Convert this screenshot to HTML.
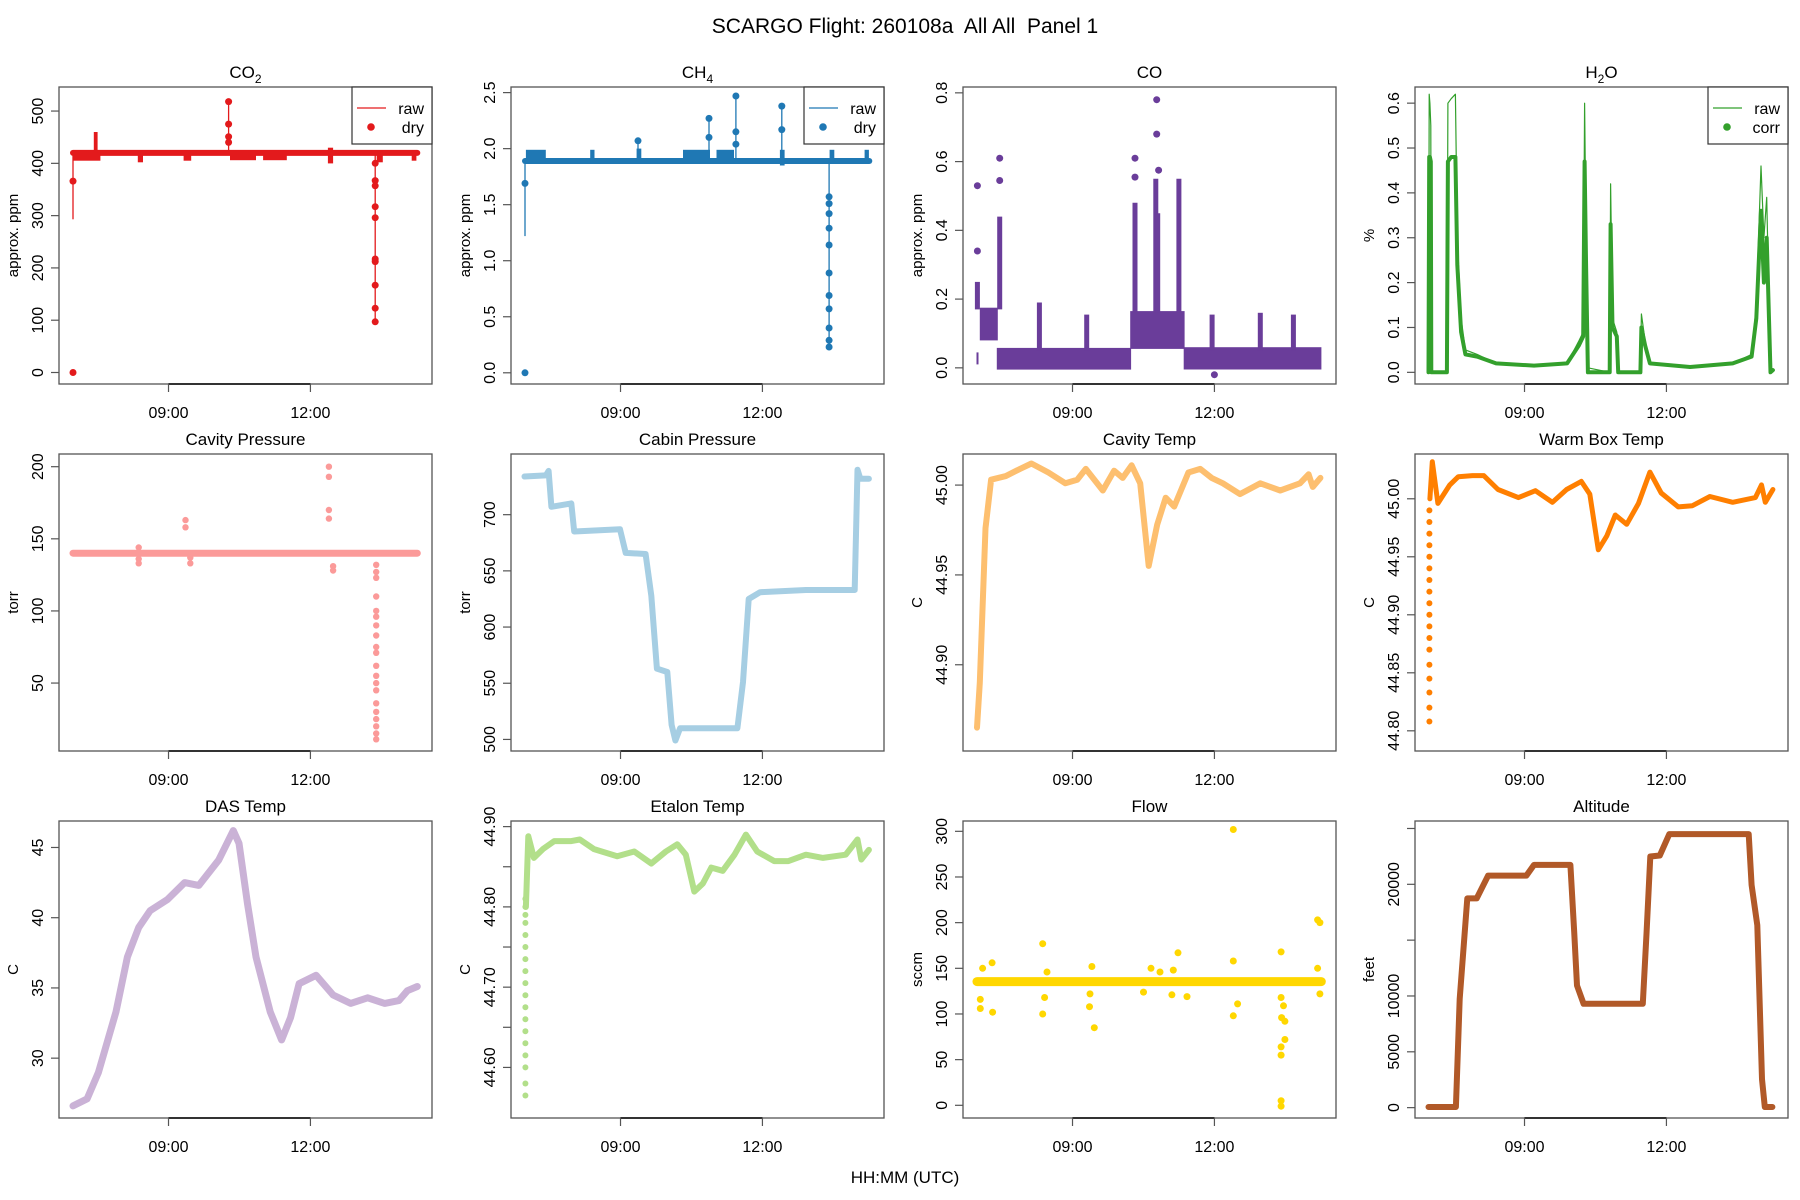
<!DOCTYPE html>
<html><head><meta charset="utf-8"><title>SCARGO Flight Panel 1</title>
<style>
html,body{margin:0;padding:0;background:#fff;}
svg{display:block;font-family:"Liberation Sans",Arial,sans-serif;}
</style></head>
<body>
<svg id="chart" width="1800" height="1200" viewBox="0 0 1800 1200" xmlns="http://www.w3.org/2000/svg">
<rect x="0" y="0" width="1800" height="1200" fill="#fff"/>
<text x="905" y="33" font-size="21" text-anchor="middle" fill="#000" style="white-space:pre" xml:space="preserve">SCARGO Flight: 260108a  All All  Panel 1</text>
<text x="905" y="1183" font-size="17" text-anchor="middle" fill="#000">HH:MM (UTC)</text>
</svg>
<script>
// ---------- DATA (time in decimal hours UTC) ----------
const xTickHours = [9, 12];
const xTickLabels = ["09:00", "12:00"];

// CO2
const co2LineT = [6.98, 14.26];
const co2LineV = [420, 420];
const co2BlockT0 = [6.99, 7.42, 8.35, 9.32, 10.30, 11.00, 12.37, 13.40, 14.14];
const co2BlockT1 = [7.56, 7.50, 8.46, 9.48, 10.85, 11.50, 12.48, 13.53, 14.24];
const co2BlockLo = [405, 420, 402, 405, 406, 406, 400, 402, 405];
const co2BlockHi = [424, 460, 424, 423, 424, 424, 430, 423, 423];
const co2RawT = [6.98, 10.27, 13.37];
const co2RawLo = [293, 420, 97];
const co2RawHi = [420, 518, 420];
const co2PtT = [6.98, 6.98, 10.27, 10.27, 10.27, 10.27, 13.37, 13.37, 13.37, 13.37, 13.37, 13.37, 13.37, 13.37, 13.37, 13.37];
const co2PtV = [0, 366, 518, 475, 451, 440, 400, 367, 357, 317, 296, 217, 212, 167, 123, 97];

// CH4
const ch4LineT = [6.98, 14.26];
const ch4LineV = [1.89, 1.89];
const ch4BlockT0 = [7.0, 8.36, 9.34, 10.32, 11.03, 12.37, 13.42, 14.16];
const ch4BlockT1 = [7.42, 8.45, 9.44, 10.89, 11.40, 12.47, 13.52, 14.25];
const ch4BlockLo = [1.88, 1.88, 1.88, 1.88, 1.88, 1.85, 1.88, 1.88];
const ch4BlockHi = [1.99, 1.99, 2.00, 1.99, 1.99, 1.99, 1.99, 1.99];
const ch4RawT = [6.98, 9.37, 10.87, 11.44, 12.41, 13.41];
const ch4RawLo = [1.22, 1.89, 1.89, 1.89, 1.89, 0.23];
const ch4RawHi = [1.89, 2.07, 2.27, 2.47, 2.38, 1.89];
const ch4PtT = [6.98, 6.98, 9.37, 10.87, 10.87, 11.44, 11.44, 11.44, 12.41, 12.41, 13.41, 13.41, 13.41, 13.41, 13.41, 13.41, 13.41, 13.41, 13.41, 13.41, 13.41];
const ch4PtV = [0.0, 1.69, 2.07, 2.27, 2.10, 2.47, 2.15, 2.04, 2.38, 2.17, 1.57, 1.51, 1.42, 1.29, 1.14, 0.89, 0.69, 0.57, 0.40, 0.29, 0.23];

// CO
const coBlockT0 = [6.97, 7.04, 7.40, 10.22, 11.35];
const coBlockT1 = [7.01, 7.42, 10.24, 11.37, 14.26];
const coBlockLo = [0.01, 0.08, -0.005, 0.055, -0.005];
const coBlockHi = [0.045, 0.175, 0.058, 0.165, 0.06];
const coSpikeT = [6.99, 7.46, 8.30, 9.30, 10.32, 10.76, 10.80, 11.25, 11.95, 12.97, 13.67];
const coSpikeLo = [0.17, 0.17, 0.05, 0.05, 0.16, 0.16, 0.16, 0.16, 0.05, 0.05, 0.05];
const coSpikeHi = [0.25, 0.44, 0.19, 0.155, 0.48, 0.55, 0.45, 0.55, 0.155, 0.16, 0.155];
const coPtT = [6.99, 6.99, 7.46, 7.46, 10.32, 10.32, 10.78, 10.78, 10.82, 12.0];
const coPtV = [0.53, 0.34, 0.61, 0.545, 0.61, 0.555, 0.78, 0.68, 0.575, -0.02];

// H2O
const h2oRawT = [6.97, 6.985, 7.0, 7.02, 7.03, 7.36, 7.38, 7.45, 7.54, 7.58, 7.66, 7.75, 8.0, 8.4, 9.2, 9.9, 10.15, 10.24, 10.27, 10.30, 10.34, 10.80, 10.82, 10.86, 10.95, 10.98, 11.45, 11.47, 11.55, 11.65, 12.5, 13.4, 13.8, 13.9, 14.0, 14.06, 14.12, 14.2, 14.25];
const h2oRawV = [0.0, 0.62, 0.60, 0.55, 0.0, 0.0, 0.60, 0.61, 0.62, 0.30, 0.12, 0.05, 0.04, 0.02, 0.015, 0.02, 0.07, 0.09, 0.60, 0.30, 0.01, 0.0, 0.42, 0.12, 0.09, 0.0, 0.0, 0.13, 0.07, 0.02, 0.012, 0.02, 0.04, 0.15, 0.46, 0.30, 0.39, 0.0, 0.005];
const h2oCorT = [6.97, 6.985, 7.0, 7.02, 7.03, 7.36, 7.38, 7.45, 7.54, 7.58, 7.66, 7.75, 8.0, 8.4, 9.2, 9.9, 10.15, 10.24, 10.27, 10.30, 10.34, 10.80, 10.82, 10.86, 10.95, 10.98, 11.45, 11.47, 11.55, 11.65, 12.5, 13.4, 13.8, 13.9, 14.0, 14.06, 14.12, 14.2, 14.25];
const h2oCorV = [0.0, 0.48, 0.48, 0.47, 0.0, 0.0, 0.47, 0.48, 0.48, 0.24, 0.09, 0.04, 0.035, 0.02, 0.015, 0.02, 0.06, 0.08, 0.47, 0.25, 0.0, 0.0, 0.33, 0.10, 0.08, 0.0, 0.0, 0.10, 0.06, 0.02, 0.012, 0.02, 0.035, 0.12, 0.36, 0.20, 0.30, 0.0, 0.005];

// Cavity pressure
const cavPLineT = [6.98, 14.26];
const cavPLineV = [140, 140];
const cavPPtT = [8.37, 8.37, 8.37, 9.36, 9.36, 9.46, 9.46, 12.39, 12.39, 12.39, 12.39, 12.48, 12.48, 13.39, 13.39, 13.39, 13.39, 13.39, 13.39, 13.39, 13.39, 13.39, 13.39, 13.39, 13.39, 13.39, 13.39, 13.39, 13.39, 13.39, 13.39, 13.39, 13.39];
const cavPPtV = [144, 136, 133, 163, 158, 137, 133, 200, 193, 170, 164, 131, 128, 132, 127, 123, 110, 100, 96, 90, 83, 75, 71, 62, 55, 50, 45, 36, 30, 25, 20, 15, 11];

// Cabin pressure
const cabPT = [6.97, 7.42, 7.48, 7.54, 7.96, 8.02, 8.99, 9.11, 9.53, 9.65, 9.77, 9.99, 10.08, 10.16, 10.26, 11.47, 11.59, 11.71, 11.95, 12.92, 13.95, 14.01, 14.07, 14.25];
const cabPV = [734, 735, 739, 707, 710, 685, 687, 666, 665, 628, 563, 560, 513, 499, 510, 510, 551, 625, 631, 633, 633, 740, 732, 732];

// Cavity temp
const cavTT = [6.98, 7.04, 7.16, 7.28, 7.59, 7.89, 8.13, 8.49, 8.85, 9.10, 9.28, 9.64, 9.88, 10.06, 10.25, 10.43, 10.61, 10.79, 10.97, 11.15, 11.45, 11.70, 11.94, 12.18, 12.54, 12.97, 13.39, 13.81, 13.99, 14.08, 14.24];
const cavTV = [44.865, 44.89, 44.976, 45.003, 45.005, 45.009, 45.012, 45.007, 45.001, 45.003, 45.009, 44.997, 45.008, 45.004, 45.011, 45.001, 44.955, 44.978, 44.993, 44.988, 45.007, 45.009, 45.004, 45.001, 44.995, 45.001, 44.997, 45.001, 45.006, 44.999, 45.004];

// Warm box temp
const wbT = [7.0, 7.05, 7.17, 7.42, 7.60, 7.90, 8.14, 8.44, 8.87, 9.23, 9.59, 9.89, 10.20, 10.38, 10.56, 10.74, 10.92, 11.16, 11.41, 11.65, 11.89, 12.25, 12.55, 12.92, 13.40, 13.88, 14.01, 14.09, 14.25];
const wbV = [45.0, 45.032, 44.996, 45.012, 45.019, 45.020, 45.020, 45.008, 45.001, 45.007, 44.997, 45.008, 45.015, 45.004, 44.956, 44.968, 44.986, 44.978, 44.996, 45.023, 45.005, 44.993, 44.994, 45.002, 44.997, 45.001, 45.012, 44.997, 45.008];
const wbPtT = [6.99, 6.99, 6.99, 6.99, 6.99, 6.99, 6.99, 6.99, 6.99, 6.99, 6.99, 6.99, 6.99, 6.99, 6.99, 6.99, 6.99, 6.99];
const wbPtV = [44.808, 44.82, 44.833, 44.845, 44.857, 44.87, 44.88, 44.89, 44.9, 44.91, 44.92, 44.93, 44.94, 44.95, 44.96, 44.97, 44.98, 44.99];

// DAS temp
const dasT = [6.98, 7.28, 7.52, 7.89, 8.13, 8.37, 8.61, 8.98, 9.34, 9.64, 10.06, 10.37, 10.49, 10.67, 10.85, 11.15, 11.39, 11.58, 11.76, 12.12, 12.48, 12.85, 13.21, 13.57, 13.87, 14.05, 14.26];
const dasV = [26.6, 27.1, 29.0, 33.3, 37.2, 39.3, 40.5, 41.3, 42.5, 42.3, 44.1, 46.2, 45.3, 41.0, 37.2, 33.3, 31.3, 32.9, 35.3, 35.9, 34.5, 33.9, 34.3, 33.9, 34.1, 34.8, 35.1];

// Etalon temp
const etT = [7.0, 7.05, 7.17, 7.36, 7.60, 7.96, 8.14, 8.44, 8.93, 9.29, 9.65, 9.96, 10.20, 10.38, 10.56, 10.74, 10.92, 11.16, 11.41, 11.65, 11.89, 12.25, 12.55, 12.92, 13.28, 13.76, 14.01, 14.09, 14.25];
const etV = [44.80, 44.888, 44.861, 44.872, 44.882, 44.882, 44.884, 44.872, 44.863, 44.869, 44.854, 44.869, 44.878, 44.865, 44.819, 44.829, 44.849, 44.845, 44.865, 44.890, 44.869, 44.857, 44.857, 44.865, 44.861, 44.865, 44.884, 44.859, 44.871];
const etPtT = [6.99, 6.99, 6.99, 6.99, 6.99, 6.99, 6.99, 6.99, 6.99, 6.99, 6.99, 6.99, 6.99, 6.99, 6.99, 6.99, 6.99, 6.99];
const etPtV = [44.565, 44.58, 44.60, 44.615, 44.63, 44.645, 44.66, 44.675, 44.69, 44.705, 44.72, 44.735, 44.75, 44.765, 44.78, 44.79, 44.80, 44.81];

// Flow
const flowLineT = [6.98, 14.26];
const flowLineV = [135.5, 135.5];
const flowPtT = [7.05, 7.10, 7.30, 7.31, 7.05, 8.37, 8.37, 8.46, 8.41, 9.36, 9.41, 9.46, 9.37, 10.50, 10.66, 10.85, 11.13, 11.23, 11.42, 11.10, 12.40, 12.40, 12.40, 12.49, 13.41, 13.41, 13.42, 13.49, 13.41, 13.41, 13.41, 13.41, 13.49, 13.46, 14.18, 14.23, 14.18, 14.23];
const flowPtV = [106, 150, 156, 102, 116, 177, 100, 146, 118, 108, 152, 85, 122, 124, 150, 146, 148, 167, 119, 121, 302, 158, 98, 111, 168, 118, 96, 72, 55, 64, 5, -1, 92, 109, 203, 200, 150, 122];

// Altitude
const altT = [6.97, 7.55, 7.63, 7.79, 7.99, 8.23, 9.04, 9.20, 9.97, 10.05, 10.11, 10.25, 11.50, 11.58, 11.66, 11.86, 12.06, 13.74, 13.80, 13.92, 14.02, 14.08, 14.24];
const altV = [60, 60, 9745, 18740, 18740, 20780, 20780, 21740, 21740, 15740, 10940, 9295, 9295, 15740, 22490, 22580, 24500, 24500, 19940, 16340, 2550, 60, 60];

// ---------- LAYOUT ----------
const COLS = [59, 511, 963, 1415], ROWS = [87, 454, 821], PW = 373, PH = 297;
const XMIN = 6.685, XMAX = 14.57;
const svg = document.getElementById('chart');
const NS = 'http://www.w3.org/2000/svg';
function el(tag, attrs, parent) {
  const e = document.createElementNS(NS, tag);
  for (const k in attrs) e.setAttribute(k, attrs[k]);
  (parent || svg).appendChild(e);
  return e;
}

const panels = [
 {key:'co2', title:['CO','2',''], col:0,row:0, ymin:-22, ymax:546, ticks:[0,100,200,300,400,500], labels:['0','100','200','300','400','500'], ylab:'approx. ppm', color:'#E31A1C', legend:['raw','dry']},
 {key:'ch4', title:['CH','4',''], col:1,row:0, ymin:-0.10, ymax:2.55, ticks:[0,0.5,1,1.5,2,2.5], labels:['0.0','0.5','1.0','1.5','2.0','2.5'], ylab:'approx. ppm', color:'#1F78B4', legend:['raw','dry']},
 {key:'co', title:['CO'], col:2,row:0, ymin:-0.047, ymax:0.817, ticks:[0,0.2,0.4,0.6,0.8], labels:['0.0','0.2','0.4','0.6','0.8'], ylab:'approx. ppm', color:'#6A3D9A'},
 {key:'h2o', title:['H','2','O'], col:3,row:0, ymin:-0.026, ymax:0.636, ticks:[0,0.1,0.2,0.3,0.4,0.5,0.6], labels:['0.0','0.1','0.2','0.3','0.4','0.5','0.6'], ylab:'%', color:'#33A02C', legend:['raw','corr']},
 {key:'cavity-pressure', title:['Cavity Pressure'], col:0,row:1, ymin:2.9, ymax:208.8, ticks:[50,100,150,200], labels:['50','100','150','200'], ylab:'torr', color:'#FB9A99'},
 {key:'cabin-pressure', title:['Cabin Pressure'], col:1,row:1, ymin:489.7, ymax:754, ticks:[500,550,600,650,700], labels:['500','550','600','650','700'], ylab:'torr', color:'#A6CEE3'},
 {key:'cavity-temp', title:['Cavity Temp'], col:2,row:1, ymin:44.852, ymax:45.0173, ticks:[44.90,44.95,45.00], labels:['44.90','44.95','45.00'], ylab:'C', color:'#FDBF6F'},
 {key:'warm-box-temp', title:['Warm Box Temp'], col:3,row:1, ymin:44.7826, ymax:45.0386, ticks:[44.80,44.85,44.90,44.95,45.00], labels:['44.80','44.85','44.90','44.95','45.00'], ylab:'C', color:'#FF7F00'},
 {key:'das-temp', title:['DAS Temp'], col:0,row:2, ymin:25.74, ymax:46.885, ticks:[30,35,40,45], labels:['30','35','40','45'], ylab:'C', color:'#CAB2D6'},
 {key:'etalon-temp', title:['Etalon Temp'], col:1,row:2, ymin:44.537, ymax:44.907, ticks:[44.60,44.65,44.70,44.75,44.80,44.85,44.90], labels:['44.60','','44.70','','44.80','','44.90'], ylab:'C', color:'#B2DF8A'},
 {key:'flow', title:['Flow'], col:2,row:2, ymin:-13.9, ymax:311.3, ticks:[0,50,100,150,200,250,300], labels:['0','50','100','150','200','250','300'], ylab:'sccm', color:'#FFD700'},
 {key:'altitude', title:['Altitude'], col:3,row:2, ymin:-928, ymax:25670, ticks:[0,5000,10000,15000,20000,25000], labels:['0','5000','10000','','20000',''], ylab:'feet', color:'#B15928'}
];

function xs(p, h) { return COLS[p.col] + (h - XMIN) / (XMAX - XMIN) * PW; }
function ys(p, v) { return ROWS[p.row] + (p.ymax - v) / (p.ymax - p.ymin) * PH; }

function drawLine(p, g, T, V, w, name) {
  const pts = T.map((t, i) => xs(p, t).toFixed(1) + ',' + ys(p, V[i]).toFixed(1)).join(' ');
  const e = el('polyline', {points: pts, fill: 'none', stroke: p.color, 'stroke-width': w, 'stroke-linejoin': 'round', 'stroke-linecap': 'round'}, g);
  
  
}
function drawPoints(p, g, T, V, r, name) {
  T.forEach((t, i) => {
    const c = el('circle', {cx: xs(p, t).toFixed(1), cy: ys(p, V[i]).toFixed(1), r: r, fill: p.color}, g);
    
    
  });
}
function drawBlocks(p, g, T0, T1, LO, HI, name) {
  T0.forEach((t, i) => {
    const x0 = xs(p, t), x1 = xs(p, T1[i]);
    const y0 = ys(p, HI[i]), y1 = ys(p, LO[i]);
    const r = el('rect', {x: x0.toFixed(1), y: y0.toFixed(1), width: Math.max(2, x1 - x0).toFixed(1), height: Math.max(2, y1 - y0).toFixed(1), fill: p.color}, g);
    
    
  });
}
function drawVsegs(p, g, T, LO, HI, w, name) {
  T.forEach((t, i) => {
    const l = el('line', {x1: xs(p, t).toFixed(1), x2: xs(p, t).toFixed(1), y1: ys(p, LO[i]).toFixed(1), y2: ys(p, HI[i]).toFixed(1), stroke: p.color, 'stroke-width': w}, g);
    
    
  });
}

panels.forEach(p => {
  const L = COLS[p.col], T = ROWS[p.row];
  const g = el('g', {});
  
  

  const tt = el('text', {x: L + PW / 2, y: T - 9, 'font-size': 17, 'text-anchor': 'middle', fill: '#000'}, g);
  
  
  if (p.title.length === 1) { tt.textContent = p.title[0]; }
  else {
    const a = el('tspan', {}, tt); a.textContent = p.title[0];
    const b = el('tspan', {dy: 5, 'font-size': 12}, tt); b.textContent = p.title[1];
    if (p.title[2]) { const c = el('tspan', {dy: -5}, tt); c.textContent = p.title[2]; }
  }

  const cid = 'clip-' + p.key;
  const cp = el('clipPath', {id: cid}, g);
  el('rect', {x: L, y: T, width: PW, height: PH}, cp);
  const dg = el('g', {'clip-path': 'url(#' + cid + ')'}, g);
  
  

  const k = p.key;
  if (k === 'co2') {
    drawVsegs(p, dg, co2RawT, co2RawLo, co2RawHi, 1.3, 'co2-raw-line');
    drawLine(p, dg, co2LineT, co2LineV, 6, 'co2-dry-band');
    drawBlocks(p, dg, co2BlockT0, co2BlockT1, co2BlockLo, co2BlockHi, 'co2-dry-cluster');
    drawPoints(p, dg, co2PtT, co2PtV, 3.5, 'co2-dry-point');
  } else if (k === 'ch4') {
    drawVsegs(p, dg, ch4RawT, ch4RawLo, ch4RawHi, 1.3, 'ch4-raw-line');
    drawLine(p, dg, ch4LineT, ch4LineV, 6, 'ch4-dry-band');
    drawBlocks(p, dg, ch4BlockT0, ch4BlockT1, ch4BlockLo, ch4BlockHi, 'ch4-dry-cluster');
    drawPoints(p, dg, ch4PtT, ch4PtV, 3.5, 'ch4-dry-point');
  } else if (k === 'co') {
    drawBlocks(p, dg, coBlockT0, coBlockT1, coBlockLo, coBlockHi, 'co-cluster');
    drawVsegs(p, dg, coSpikeT, coSpikeLo, coSpikeHi, 5, 'co-spike');
    drawPoints(p, dg, coPtT, coPtV, 3.5, 'co-point');
  } else if (k === 'h2o') {
    drawLine(p, dg, h2oRawT, h2oRawV, 1.2, 'h2o-raw-line');
    drawLine(p, dg, h2oCorT, h2oCorV, 4, 'h2o-corr-series');
  } else if (k === 'cavity-pressure') {
    drawLine(p, dg, cavPLineT, cavPLineV, 7, 'cavity-pressure-band');
    drawPoints(p, dg, cavPPtT, cavPPtV, 3.2, 'cavity-pressure-point');
  } else if (k === 'cabin-pressure') {
    drawLine(p, dg, cabPT, cabPV, 6, 'cabin-pressure-line');
  } else if (k === 'cavity-temp') {
    drawLine(p, dg, cavTT, cavTV, 6, 'cavity-temp-line');
  } else if (k === 'warm-box-temp') {
    drawPoints(p, dg, wbPtT, wbPtV, 3, 'warm-box-temp-point');
    drawLine(p, dg, wbT, wbV, 5, 'warm-box-temp-line');
  } else if (k === 'das-temp') {
    drawLine(p, dg, dasT, dasV, 7, 'das-temp-line');
  } else if (k === 'etalon-temp') {
    drawPoints(p, dg, etPtT, etPtV, 3, 'etalon-temp-point');
    drawLine(p, dg, etT, etV, 6, 'etalon-temp-line');
  } else if (k === 'flow') {
    drawLine(p, dg, flowLineT, flowLineV, 9, 'flow-band');
    drawPoints(p, dg, flowPtT, flowPtV, 3.5, 'flow-point');
  } else if (k === 'altitude') {
    drawLine(p, dg, altT, altV, 6, 'altitude-line');
  }

  const box = el('rect', {x: L, y: T, width: PW, height: PH, fill: 'none', stroke: '#555', 'stroke-width': 1.3}, g);
  
  

  const B = T + PH;
  const xa = el('line', {x1: xs(p, xTickHours[0]), x2: xs(p, xTickHours[xTickHours.length - 1]), y1: B, y2: B, stroke: '#000', 'stroke-width': 1.5}, g);
  
  
  xTickHours.forEach((h, i) => {
    const x = xs(p, h);
    const tk = el('line', {x1: x, x2: x, y1: B, y2: B + 8, stroke: '#555', 'stroke-width': 1.2}, g);
    
    
    const lb = el('text', {x: x, y: B + 34, 'font-size': 16, 'text-anchor': 'middle', fill: '#000'}, g);
    
    
    lb.textContent = xTickLabels[i];
  });

  p.ticks.forEach((v, i) => {
    const y = ys(p, v);
    const tk = el('line', {x1: L - 8, x2: L, y1: y, y2: y, stroke: '#555', 'stroke-width': 1.2}, g);
    
    
    if (p.labels[i]) {
      const lb = el('text', {x: 0, y: 0, 'font-size': 16, 'text-anchor': 'middle', fill: '#000', transform: 'translate(' + (L - 16) + ',' + y.toFixed(1) + ') rotate(-90)'}, g);
      
      
      lb.textContent = p.labels[i];
    }
  });
  const yl = el('text', {x: 0, y: 0, 'font-size': 15, 'text-anchor': 'middle', fill: '#000', transform: 'translate(' + (L - 41) + ',' + (T + PH / 2) + ') rotate(-90)'}, g);
  
  
  yl.textContent = p.ylab;

  if (p.legend) {
    const lw = 80, lh = 57, lx = L + PW - lw, ly = T;
    const lg = el('g', {}, g);
    
    
    el('rect', {x: lx, y: ly, width: lw, height: lh, fill: '#fff', stroke: '#333', 'stroke-width': 1.2}, lg);
    const ln = el('line', {x1: lx + 5, x2: lx + 34, y1: ly + 21, y2: ly + 21, stroke: p.color, 'stroke-width': 1.3}, lg);
    
    
    const t1 = el('text', {x: lx + lw - 8, y: ly + 27, 'font-size': 16, 'text-anchor': 'end', fill: '#000'}, lg);
    
    
    t1.textContent = p.legend[0];
    const dt = el('circle', {cx: lx + 19, cy: ly + 40, r: 3.8, fill: p.color}, lg);
    
    
    const t2 = el('text', {x: lx + lw - 8, y: ly + 46, 'font-size': 16, 'text-anchor': 'end', fill: '#000'}, lg);
    
    
    t2.textContent = p.legend[1];
  }
});
</script>
</body></html>
